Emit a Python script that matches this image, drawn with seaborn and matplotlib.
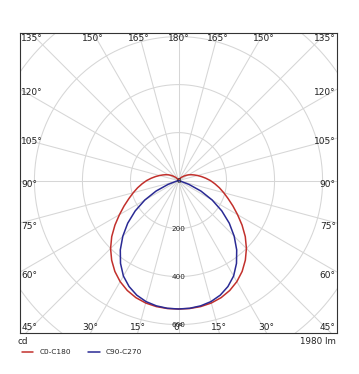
import numpy as np
import pandas as pd
import matplotlib
matplotlib.use("Agg")
import matplotlib.pyplot as plt
import seaborn as sns

# ---- data (gamma angle in degrees -> luminous intensity in cd) ----
red_gamma = [0, 5, 10, 15, 20, 25, 30, 35, 40, 45, 50, 55, 60, 65, 70, 75, 80, 85, 90,
             95, 100, 105, 110, 115, 120, 125, 130, 140, 150, 160, 180]
red_cd = [535, 535, 533, 528, 519, 505, 486, 462, 433, 400, 363, 323, 284, 250, 220, 195, 173, 152, 133,
          114, 97, 82, 69, 58, 48, 38, 29, 17, 8, 4, 0]
blue_gamma = [0, 5, 10, 15, 20, 25, 30, 35, 40, 45, 50, 55, 60, 65, 70, 73, 75, 90]
blue_cd = [535, 534, 530, 522, 508, 487, 459, 421, 377, 328, 276, 220, 162, 103, 46, 13, 0, 0]
series_names = ["C0-C180", "C90-C270"]
ring_values = [200, 400, 600, 800, 1000]
ring_labels = [0, 200, 400, 600]
angle_step = 15
flux_label = "1980 lm"
unit_label = "cd"

colors = {"C0-C180": "#c2302c", "C90-C270": "#2a2a94"}

def build_path(gamma, cd, name):
    g = np.radians(np.array(gamma, dtype=float))
    r = np.array(cd, dtype=float)
    # left half (C180 / C270) from top down to nadir, then right half back up
    xl = -r[::-1] * np.sin(g[::-1])
    yl = -r[::-1] * np.cos(g[::-1])
    xr = r[1:] * np.sin(g[1:])
    yr = -r[1:] * np.cos(g[1:])
    x = np.concatenate([xl, xr])
    y = np.concatenate([yl, yr])
    return pd.DataFrame({"x": x, "y": y, "series": name})

df = pd.concat([build_path(red_gamma, red_cd, series_names[0]),
                build_path(blue_gamma, blue_cd, series_names[1])], ignore_index=True)

sns.set_style("white")
plt.rcParams["font.family"] = ["DejaVu Sans"]

W, H = 359, 374
fig = plt.figure(figsize=(W / 100, H / 100), dpi=100)
ax = fig.add_axes([20 / W, 1 - 333 / H, 317 / W, 300 / H])

XL, XR, YB, YT = -660, 660, -635, 615
ax.set_xlim(XL, XR)
ax.set_ylim(YB, YT)

grid_kw = dict(color="#d6d6d6", lw=0.75, zorder=1)
th = np.linspace(0, 2 * np.pi, 400)
for rv in ring_values:
    ax.plot(rv * np.cos(th), rv * np.sin(th), **grid_kw)
for a in range(0, 360, angle_step):
    ar = np.radians(a)
    ax.plot([0, 1200 * np.sin(ar)], [0, -1200 * np.cos(ar)], **grid_kw)

sns.lineplot(data=df, x="x", y="y", hue="series", palette=colors, sort=False,
             estimator=None, units="series", lw=1.1, ax=ax, zorder=3)

ax.set_xticks([])
ax.set_yticks([])
ax.set_xlabel("")
ax.set_ylabel("")
for sp in ax.spines.values():
    sp.set_color("#333333")
    sp.set_linewidth(0.8)

# angle labels on the frame
fs = 6.5
for g in range(0, 181, angle_step):
    for s in (-1, 1):
        if g in (0, 180) and s == 1:
            continue
        gr = np.radians(g)
        dx, dy = s * np.sin(gr), -np.cos(gr)
        tx = (XR if dx > 0 else XL) / dx if abs(dx) > 1e-9 else np.inf
        ty = (YT if dy > 0 else YB) / dy if abs(dy) > 1e-9 else np.inf
        txt = f"{g}°"
        if tx < ty:
            py = tx * dy
            if s < 0:
                ax.text(XL + 5, py + 3, txt, ha="left", va="top", fontsize=fs, color="#222", zorder=5)
            else:
                ax.text(XR - 5, py + 3, txt, ha="right", va="top", fontsize=fs, color="#222", zorder=5)
        else:
            px = ty * dx
            top = dy > 0
            yy = YT - 6 if top else YB + 5
            va = "top" if top else "bottom"
            if px < XL + 70:
                ax.text(XL + 5, yy, txt, ha="left", va=va, fontsize=fs, color="#222", zorder=5)
            elif px > XR - 70:
                ax.text(XR - 5, yy, txt, ha="right", va=va, fontsize=fs, color="#222", zorder=5)
            else:
                ax.text(px, yy, txt, ha="center", va=va, fontsize=fs, color="#222", zorder=5)

for rv in ring_labels:
    ax.text(0, -rv, f"{rv}", ha="center", va="center", fontsize=5.2, color="#222", zorder=6)

fig.text(18 / W, 1 - 342 / H, unit_label, ha="left", va="center", fontsize=6.3, color="#222")
fig.text(336 / W, 1 - 342 / H, flux_label, ha="right", va="center", fontsize=6.3, color="#222")

sns.move_legend(ax, "center left", bbox_to_anchor=(21.5 / W, 1 - 352 / H),
                bbox_transform=fig.transFigure, ncol=2, frameon=False, title=None,
                fontsize=5.3, handlelength=1.6, handletextpad=0.9, columnspacing=2.2,
                borderpad=0, borderaxespad=0)

fig.savefig("out.png", dpi=100)
